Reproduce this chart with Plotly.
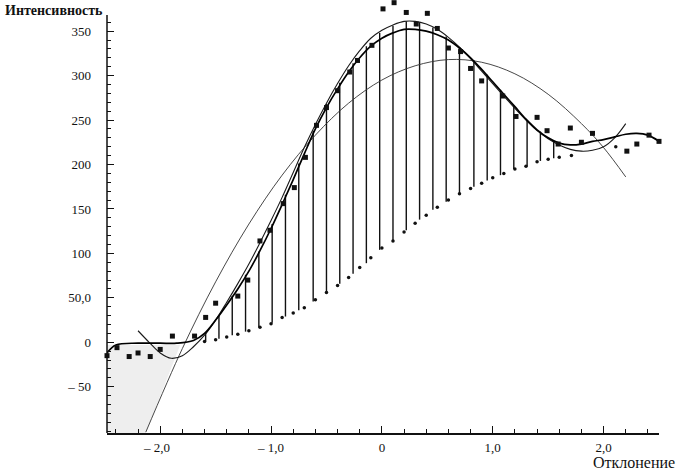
import plotly.graph_objects as go

# экспериментальные точки
exp_x = [-2.48, -2.39, -2.28, -2.20, -2.09, -2.00, -1.89, -1.69, -1.59, -1.50,
         -1.30, -1.21, -1.10, -1.01, -0.89, -0.79, -0.69, -0.59, -0.50, -0.40,
         -0.29, -0.22, -0.09, 0.01, 0.11, 0.22, 0.31, 0.41, 0.50, 0.60,
         0.71, 0.80, 0.90, 1.09, 1.21, 1.40, 1.49, 1.59, 1.70, 1.80,
         1.90, 2.21, 2.30, 2.41, 2.50]
exp_y = [-15, -6, -16, -12, -16, -8, 7, 7, 28, 44,
         52, 70, 114, 126, 156, 174, 208, 244, 264, 283,
         304, 317, 334, 375, 382, 371, 358, 370, 353, 331,
         327, 308, 294, 277, 254, 253, 238, 223, 241, 225,
         235, 215, 223, 233, 226]

# мелкие точки (нижняя кривая)
low_x = [-1.6, -1.5, -1.4, -1.3, -1.2, -1.1, -1.0, -0.9, -0.8, -0.7, -0.6, -0.5,
         -0.4, -0.3, -0.2, -0.1, 0.0, 0.1, 0.2, 0.3, 0.4, 0.5, 0.6, 0.7, 0.8,
         0.9, 1.0, 1.1, 1.2, 1.3, 1.4, 1.5, 1.6, 1.71, 2.11]
low_y = [1, 3, 6, 9, 13, 17, 21, 28, 33, 39, 48, 56,
         64, 73, 84, 95, 106, 114, 124, 134, 143, 152, 160, 167, 173,
         179, 185, 190, 195, 198, 203, 206, 208, 210, 220]

# кривая A (сплошная, на всём диапазоне)
a_x = [-2.48, -2.4, -2.2, -2.0, -1.85, -1.7, -1.6, -1.5, -1.4, -1.3, -1.2, -1.1,
       -1.0, -0.9, -0.8, -0.7, -0.6, -0.5, -0.4, -0.3, -0.2, -0.1, 0.0, 0.1,
       0.2, 0.3, 0.4, 0.5, 0.6, 0.7, 0.8, 0.9, 1.0, 1.1, 1.2, 1.3, 1.4, 1.5,
       1.6, 1.7, 1.8, 1.9, 2.0, 2.1, 2.2, 2.3, 2.4, 2.5]
a_y = [-12, -3, -1, -1, -1, 2, 10, 25, 42, 60, 80, 103,
       128, 155, 183, 212, 240, 264, 285, 304, 320, 333, 342, 348,
       352, 352, 350, 346, 340, 331, 320, 307, 293, 279, 265, 251, 239, 230,
       224, 222, 223, 226, 228, 231, 234, 235, 233, 226]

# кривая D (полином, с загибами на концах)
d_x = [-2.2, -2.1, -2.0, -1.9, -1.8, -1.7, -1.6, -1.5, -1.4, -1.3, -1.2, -1.1,
       -1.0, -0.9, -0.8, -0.7, -0.6, -0.5, -0.4, -0.3, -0.2, -0.1, 0.0, 0.1,
       0.2, 0.3, 0.4, 0.5, 0.6, 0.7, 0.8, 0.9, 1.0, 1.1, 1.2, 1.3, 1.4, 1.5,
       1.6, 1.7, 1.8, 1.9, 2.0, 2.1, 2.2]
d_y = [13, 0, -12, -18, -15, -5, 8, 25, 45, 66, 88, 112,
       137, 163, 191, 219, 245, 269, 291, 311, 328, 342, 351, 357,
       361, 361, 358, 352, 343, 332, 319, 305, 291, 277, 263, 250, 238, 229,
       222, 217, 215, 216, 220, 230, 246]

# кривая C (широкая парабола)
c_x = [-2.13, -1.8, -1.5, -1.2, -0.9, -0.6, -0.3, 0.0, 0.3, 0.6, 0.9, 1.2,
       1.5, 1.8, 2.0, 2.2]
c_y = [-101, -7, 68, 133, 188, 233, 269, 295, 311, 318, 315, 302,
       279, 246, 219, 186]

# вертикальные отрезки
stem_x = [-1.59, -1.47, -1.35, -1.23, -1.11, -0.99, -0.87, -0.75, -0.62, -0.50,
          -0.38, -0.26, -0.14, -0.02, 0.10, 0.22, 0.34, 0.46, 0.58, 0.70,
          0.83, 0.95, 1.07, 1.19, 1.31, 1.43, 1.55]
stem_top = [11, 30, 52, 76, 102, 133, 166, 201, 238, 268,
            292, 314, 333, 348, 356, 361, 360, 354, 344, 332,
            317, 301, 284, 266, 250, 237, 227]
stem_bottom = [1, 4, 8, 12, 17, 22, 29, 36, 46, 56,
               66, 77, 89, 104, 114, 126, 138, 149, 158, 167,
               175, 182, 188, 195, 198, 204, 207]

# серая заливка слева внизу
fill_x = [-2.48, -2.48, -2.13, -1.82, -2.48]
fill_y = [-3, -102, -102, -3, -3]

y_ticks = [-50, 0, 50, 100, 150, 200, 250, 300, 350]
y_labels = ['– 50', '0', '50,0', '100', '150', '200', '250', '300', '350']
x_ticks = [-2, -1, 0, 1, 2]
x_labels = ['– 2,0  ', '– 1,0', '0', '1,0', '2,0']

Y_BOTTOM, Y_AXIS_TOP, Y_VIEW_TOP = -102, 368, 385

fig = go.Figure()

fig.add_trace(go.Scatter(x=fill_x, y=fill_y, mode='lines', fill='toself',
                         fillcolor='#eeeeee', line=dict(width=0)))

sx, sy = [], []
for x, t, b in zip(stem_x, stem_top, stem_bottom):
    sx += [x, x, None]
    sy += [t, b, None]
fig.add_trace(go.Scatter(x=sx, y=sy, mode='lines',
                         line=dict(color='#111111', width=1.4)))

fig.add_trace(go.Scatter(x=c_x, y=c_y, mode='lines', line_shape='spline',
                         line=dict(color='#333333', width=0.9)))
fig.add_trace(go.Scatter(x=d_x, y=d_y, mode='lines', line_shape='spline',
                         line=dict(color='#1a1a1a', width=1.1)))
fig.add_trace(go.Scatter(x=a_x, y=a_y, mode='lines', line_shape='spline',
                         line=dict(color='#000000', width=1.7)))

fig.add_trace(go.Scatter(x=low_x, y=low_y, mode='markers',
                         marker=dict(symbol='circle', size=3.5, color='#111111')))
fig.add_trace(go.Scatter(x=exp_x, y=exp_y, mode='markers', cliponaxis=False,
                         marker=dict(symbol='square', size=5, color='#111111')))

# вертикальная ось рисуется отрезком только до 368
fig.add_shape(type='line', xref='paper', yref='y', x0=0, x1=0,
              y0=Y_BOTTOM, y1=Y_AXIS_TOP, line=dict(color='#111111', width=1.5))

fig.update_layout(
    width=677, height=471,
    margin=dict(l=107, r=18, t=0, b=38),
    paper_bgcolor='white', plot_bgcolor='white',
    showlegend=False,
    font=dict(family='Liberation Serif', size=13, color='#111111'),
)

fig.update_xaxes(
    range=[-2.48, 2.5], showgrid=False, zeroline=False,
    showline=True, linecolor='#111111', linewidth=1.5,
    tickmode='array', tickvals=x_ticks, ticktext=x_labels,
    ticks='inside', ticklen=7, tickwidth=1.3, tickcolor='#111111',
    minor=dict(ticks='inside', dtick=0.2, tick0=0, ticklen=4, tickcolor='#111111'),
    ticklabelstandoff=2,
)
fig.update_yaxes(
    range=[Y_BOTTOM, Y_VIEW_TOP], showgrid=False, zeroline=False,
    showline=False,
    tickmode='array', tickvals=y_ticks, ticktext=y_labels,
    ticks='inside', ticklen=7, tickwidth=1.3, tickcolor='#111111',
    minor=dict(ticks='inside', tickmode='array',
               tickvals=list(range(-100, 370, 10)),
               ticklen=4, tickcolor='#111111'),
    ticklabelstandoff=15,
)

fig.add_annotation(text='<b>Интенсивность</b>', xref='paper', yref='paper',
                   x=0, y=1.0, xanchor='right', yanchor='top', yshift=-1, xshift=-2,
                   showarrow=False, font=dict(size=14, family='Liberation Serif'))
fig.add_annotation(text='Отклонение', xref='paper', yref='paper',
                   x=1.0, y=0, xanchor='right', yanchor='top', xshift=18, yshift=-19,
                   showarrow=False, font=dict(size=16, family='Liberation Serif'))

fig.write_html("out.html", config={'displayModeBar': False},
               post_script="document.body.style.margin='0';")
